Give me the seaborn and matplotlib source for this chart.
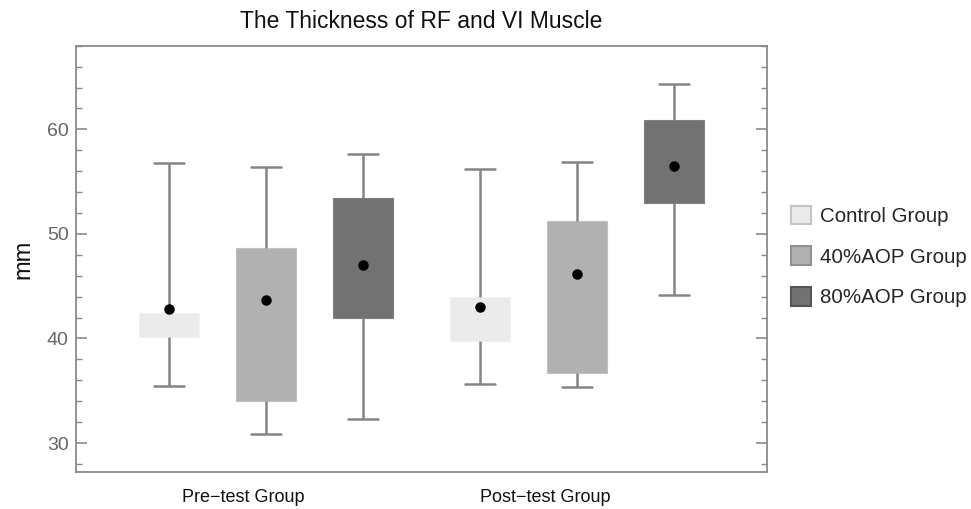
import numpy as np
import pandas as pd
import matplotlib
matplotlib.use("Agg")
import matplotlib.pyplot as plt
import seaborn as sns
from matplotlib.ticker import MultipleLocator
from matplotlib.patches import Patch

# ---- data ----
phases = ["Pre\u2212test Group", "Post\u2212test Group"]
groups = ["Control Group", "40%AOP Group", "80%AOP Group"]

# order: Pre (Control, 40%, 80%), Post (Control, 40%, 80%)
whisker_low  = [35.5, 30.9, 32.3, 35.6, 35.4, 44.2]
box_low      = [40.15, 34.0, 42.0, 39.8, 36.65, 53.0]
box_high     = [42.4, 48.65, 53.45, 43.95, 51.2, 60.9]
whisker_high = [56.8, 56.4, 57.6, 56.2, 56.9, 64.3]
means        = [42.8, 43.7, 47.0, 43.05, 46.15, 56.45]

colors = ["#ebebeb", "#b1b1b1", "#727272"]
edge_colors = ["#f2f2f2", "#c0c0c0", "#808080"]

# ---- build long-form tables ----
rows, mean_rows = [], []
k = 0
for ph in phases:
    for g in groups:
        for v in (whisker_low[k], box_low[k], box_low[k], box_high[k], whisker_high[k]):
            rows.append({"phase": ph, "group": g, "value": v})
        mean_rows.append({"phase": ph, "group": g, "mean": means[k]})
        k += 1
df = pd.DataFrame(rows)
dm = pd.DataFrame(mean_rows)

sns.set_theme(style="white")
plt.rcParams["font.family"] = ["Liberation Sans", "DejaVu Sans"]

fig = plt.figure(figsize=(9.71, 5.09), dpi=100)
ax = fig.add_axes([0.078, 0.0721, 0.7116, 0.8381])

frame = "#8a8a8a"
wc = "#858585"
sns.boxplot(data=df, x="phase", y="value", hue="group", order=phases,
            hue_order=groups, palette=colors, width=0.933, gap=0.38,
            whis=(0, 100), dodge=True, ax=ax, linewidth=1.5,
            whiskerprops=dict(color=wc, linewidth=1.8),
            capprops=dict(color=wc, linewidth=1.8),
            medianprops=dict(visible=False),
            boxprops=dict(linewidth=0.8),
            showfliers=False, legend=False)

sns.pointplot(data=dm, x="phase", y="mean", hue="group", order=phases,
              hue_order=groups, palette=["black"] * 3, dodge=0.622,
              linestyle="none", markers="o", markersize=5.5, ax=ax,
              legend=False, errorbar=None)

# set box edge colors per hue
for patch in ax.patches:
    lum = patch.get_facecolor()[0]
    if lum > 0.85:
        patch.set_edgecolor(edge_colors[0])
    elif lum > 0.6:
        patch.set_edgecolor(edge_colors[1])
    else:
        patch.set_edgecolor(edge_colors[2])

ax.set_xlim(-0.612, 1.61)
ax.set_ylim(27.2, 68.0)
ax.yaxis.set_major_locator(MultipleLocator(10))
ax.yaxis.set_minor_locator(MultipleLocator(2))
ax.tick_params(axis="y", which="both", direction="in", left=True, right=True,
               color=frame, labelcolor="#666666", labelsize=14, pad=5)
ax.tick_params(axis="y", which="major", length=8, width=1.2)
ax.tick_params(axis="y", which="minor", length=4, width=1.0)
ax.set_xticks([-0.074, 0.897])
ax.set_xticklabels(phases)
ax.tick_params(axis="x", length=0, labelsize=13, labelcolor="#111111", pad=12)
for sp in ax.spines.values():
    sp.set_color(frame)
    sp.set_linewidth(1.3)
ax.set_xlabel("")
ax.set_ylabel("mm", fontsize=17, color="#111111", labelpad=9)
ax.set_title("The Thickness of RF and VI Muscle", fontsize=16.5, color="#111111", pad=13)

handles = [Patch(facecolor=c, edgecolor=e, linewidth=1.5) for c, e in
           zip(colors, ["#c4c4c4", "#909090", "#555555"])]
fig.legend(handles, groups, loc="center left", bbox_to_anchor=(0.806, 0.496),
           frameon=False, fontsize=14.8, handlelength=1.0, handleheight=1.0,
           handletextpad=0.42, labelspacing=1.0, borderaxespad=0)

fig.savefig("out.png", dpi=100)
